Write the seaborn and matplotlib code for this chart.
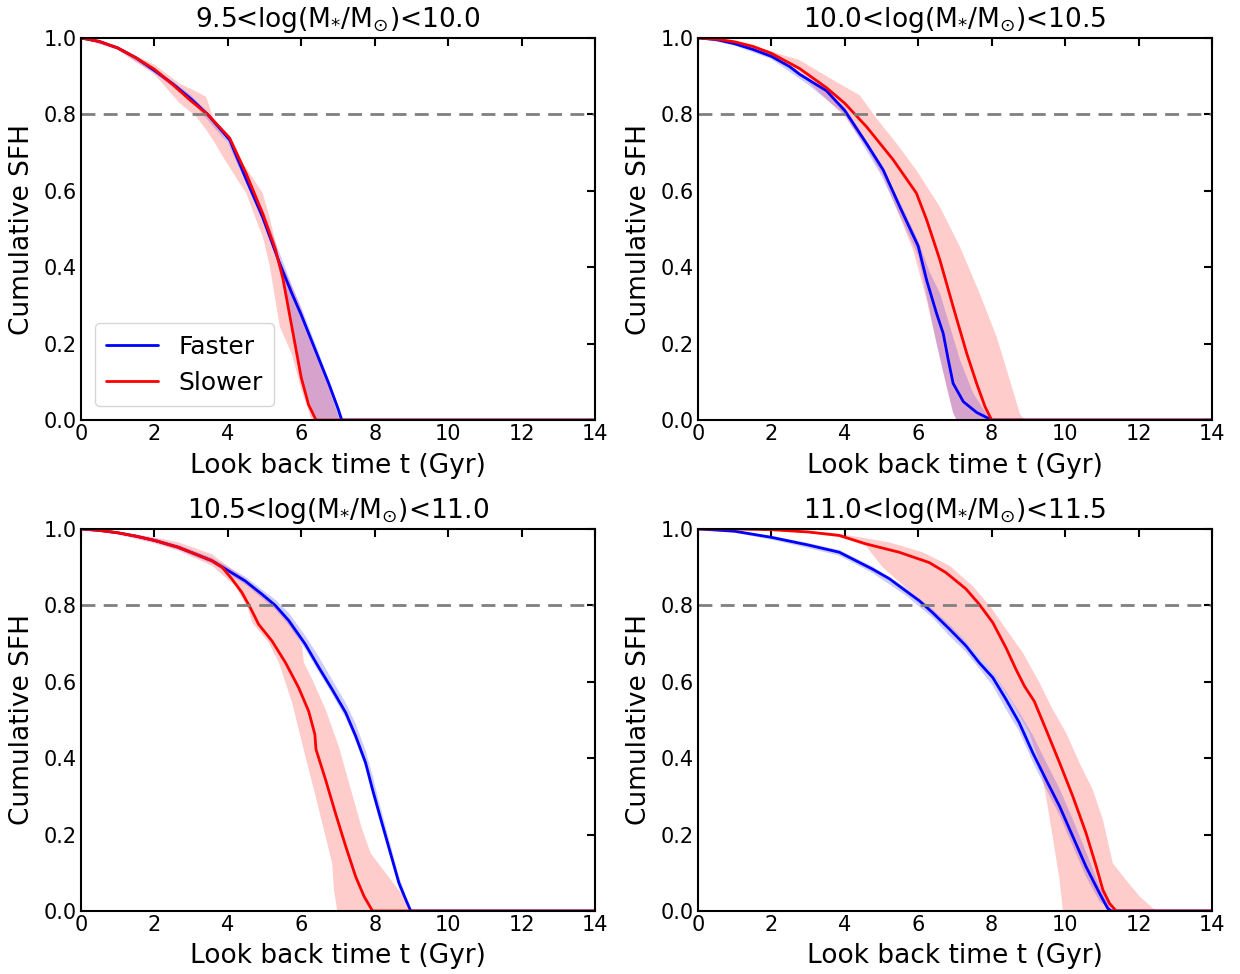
import numpy as np
import pandas as pd
import matplotlib
matplotlib.use("Agg")
import matplotlib.pyplot as plt
import seaborn as sns

# ---------------- data ----------------
titles = [r"9.5<log(M$_{*}$/M$_{\odot}$)<10.0",
          r"10.0<log(M$_{*}$/M$_{\odot}$)<10.5",
          r"10.5<log(M$_{*}$/M$_{\odot}$)<11.0",
          r"11.0<log(M$_{*}$/M$_{\odot}$)<11.5"]

# Panel 1 : 9.5 - 10.0
t1_f = [0, 0.5, 1, 1.5, 2, 2.5, 3, 3.45, 4.05, 4.5, 4.95, 5.41, 5.75, 6, 6.25, 6.5, 6.75, 7, 7.1, 14]
f1 = [1, 0.991, 0.974, 0.948, 0.915, 0.88, 0.84, 0.80, 0.733, 0.63, 0.53, 0.41, 0.33, 0.275, 0.215, 0.155, 0.095, 0.03, 0, 0]
t1_s = [0, 0.5, 1, 1.5, 2, 2.5, 3, 3.45, 4.05, 4.5, 4.95, 5.3, 5.5, 5.75, 6, 6.2, 6.4, 14]
s1 = [1, 0.991, 0.974, 0.948, 0.918, 0.878, 0.835, 0.80, 0.738, 0.645, 0.54, 0.445, 0.37, 0.24, 0.11, 0.04, 0, 0]
rt1_hi = [0, 1, 2, 2.68, 3.14, 3.41, 3.68, 3.86, 4.32, 4.5, 4.77, 4.95, 5.14, 5.41, 5.75, 6.0, 6.28, 6.5, 6.7, 7.04, 14]
rhi1 = [1, 0.978, 0.93, 0.881, 0.86, 0.846, 0.768, 0.745, 0.68, 0.66, 0.62, 0.594, 0.53, 0.42, 0.35, 0.29, 0.21, 0.16, 0.10, 0, 0]
rt1_lo = [0, 1, 2, 2.68, 3.14, 3.41, 3.68, 3.86, 4.32, 4.5, 4.77, 4.95, 5.14, 5.41, 5.75, 6.0, 6.28, 14]
rlo1 = [1, 0.968, 0.905, 0.83, 0.794, 0.76, 0.72, 0.69, 0.62, 0.594, 0.524, 0.48, 0.404, 0.246, 0.17, 0.08, 0, 0]
bt1_hi = [0, 1, 2, 3, 4, 4.5, 5, 5.3, 5.5, 5.75, 6, 6.4, 6.5, 7, 7.15, 14]
bhi1 = [1, 0.978, 0.922, 0.85, 0.75, 0.645, 0.54, 0.465, 0.415, 0.35, 0.295, 0.195, 0.17, 0.04, 0, 0]
bt1_lo = [0, 1, 2, 3, 4, 4.5, 5, 5.3, 5.5, 5.75, 6, 6.4, 14]
blo1 = [1, 0.97, 0.908, 0.835, 0.725, 0.62, 0.515, 0.44, 0.37, 0.24, 0.11, 0, 0]

# Panel 2 : 10.0 - 10.5
t2_f = [0, 0.5, 1, 1.5, 2, 2.5, 2.77, 3.5, 4.0, 4.59, 5.05, 5.5, 6.0, 6.23, 6.5, 6.68, 6.82, 6.95, 7.23, 7.59, 8.0, 14]
f2 = [1, 0.996, 0.985, 0.97, 0.952, 0.925, 0.905, 0.862, 0.81, 0.724, 0.654, 0.558, 0.455, 0.366, 0.279, 0.227, 0.157, 0.096, 0.048, 0.02, 0, 0]
t2_s = [0, 0.5, 1, 1.5, 2, 2.77, 3.5, 4.0, 4.59, 5.32, 5.95, 6.23, 6.59, 6.95, 7.32, 7.59, 7.82, 8.0, 14]
s2 = [1, 0.997, 0.99, 0.978, 0.96, 0.92, 0.87, 0.829, 0.768, 0.681, 0.594, 0.524, 0.419, 0.297, 0.175, 0.096, 0.035, 0, 0]
rt2_hi = [0, 1, 2, 2.77, 3.68, 4.41, 4.86, 5.41, 5.95, 6.59, 7.14, 7.68, 8.14, 8.5, 8.77, 8.9, 14]
rhi2 = [1, 0.992, 0.965, 0.942, 0.89, 0.85, 0.79, 0.724, 0.654, 0.558, 0.453, 0.33, 0.217, 0.103, 0.016, 0, 0]
rt2_lo = [0, 1, 2, 2.77, 4.0, 4.59, 5.05, 5.5, 5.86, 6.23, 6.5, 6.77, 6.95, 7.05, 14]
rlo2 = [1, 0.985, 0.95, 0.907, 0.794, 0.715, 0.637, 0.532, 0.445, 0.314, 0.201, 0.088, 0.018, 0, 0]
bt2_hi = [0, 1, 2, 3, 4, 5, 6, 6.3, 6.6, 7.14, 7.5, 7.9, 8.0, 14]
bhi2 = [1, 0.99, 0.958, 0.895, 0.82, 0.67, 0.47, 0.39, 0.33, 0.157, 0.07, 0.01, 0, 0]
bt2_lo = [0, 1, 2, 3, 4, 5, 6, 6.5, 6.77, 6.95, 7.05, 14]
blo2 = [1, 0.98, 0.945, 0.878, 0.80, 0.64, 0.43, 0.20, 0.09, 0.02, 0, 0]

# Panel 3 : 10.5 - 11.0
t3_f = [0, 0.5, 1, 1.5, 2, 2.65, 3.56, 4.47, 4.93, 5.29, 5.66, 6.11, 6.48, 6.84, 7.21, 7.48, 7.75, 7.94, 8.12, 8.30, 8.48, 8.66, 8.85, 8.98, 14]
f3 = [1, 0.996, 0.99, 0.981, 0.97, 0.952, 0.917, 0.864, 0.829, 0.80, 0.76, 0.698, 0.637, 0.58, 0.519, 0.458, 0.388, 0.318, 0.256, 0.195, 0.134, 0.073, 0.029, 0, 0]
t3_s = [0, 0.5, 1, 1.5, 2, 2.65, 3.56, 3.84, 4.11, 4.38, 4.61, 4.84, 5.2, 5.57, 5.93, 6.2, 6.37, 6.40, 6.66, 6.93, 7.21, 7.48, 7.71, 7.94, 14]
s3 = [1, 0.996, 0.99, 0.981, 0.97, 0.952, 0.917, 0.90, 0.869, 0.834, 0.794, 0.75, 0.707, 0.65, 0.584, 0.523, 0.462, 0.423, 0.344, 0.256, 0.169, 0.09, 0.038, 0, 0]
rt3_hi = [0, 1, 2, 2.65, 3.56, 4.47, 5.11, 5.66, 6.02, 6.07, 6.3, 6.66, 7.02, 7.3, 7.66, 7.89, 8.3, 8.85, 9.03, 14]
rhi3 = [1, 0.993, 0.978, 0.965, 0.934, 0.869, 0.816, 0.764, 0.694, 0.65, 0.606, 0.528, 0.431, 0.335, 0.213, 0.151, 0.099, 0.03, 0, 0]
rt3_lo = [0, 1, 2, 2.65, 3.56, 4.2, 4.56, 4.66, 5.11, 5.39, 5.75, 6.11, 6.39, 6.66, 6.84, 6.89, 6.98, 14]
rlo3 = [1, 0.985, 0.962, 0.943, 0.904, 0.851, 0.79, 0.755, 0.703, 0.65, 0.545, 0.405, 0.30, 0.195, 0.125, 0.055, 0, 0]
bt3 = [0, 1, 2, 2.65, 3.56, 4.47, 5.29, 5.66, 6.11, 6.48, 6.84, 7.21, 7.48, 7.75, 7.94, 8.12, 8.30, 8.48, 8.66, 8.85, 9.0, 14]
bhi3 = [1, 0.993, 0.975, 0.958, 0.925, 0.875, 0.815, 0.78, 0.72, 0.665, 0.605, 0.545, 0.49, 0.42, 0.355, 0.285, 0.22, 0.155, 0.09, 0.04, 0, 0]
blo3 = [1, 0.987, 0.965, 0.946, 0.91, 0.855, 0.79, 0.748, 0.685, 0.625, 0.568, 0.505, 0.445, 0.375, 0.30, 0.24, 0.18, 0.12, 0.06, 0.02, 0, 0]

# Panel 4 : 11.0 - 11.5
t4_f = [0, 1, 2, 3, 3.85, 4.3, 4.75, 5.21, 5.66, 6.03, 6.39, 6.85, 7.3, 7.66, 8.03, 8.39, 8.75, 9.12, 9.48, 9.85, 10.21, 10.57, 10.94, 11.16, 11.25, 14]
f4 = [1, 0.994, 0.978, 0.958, 0.939, 0.917, 0.895, 0.87, 0.838, 0.812, 0.781, 0.738, 0.694, 0.65, 0.611, 0.554, 0.493, 0.414, 0.344, 0.274, 0.195, 0.116, 0.046, 0.007, 0, 0]
t4_s = [0, 1, 2, 3, 3.85, 4.57, 5.48, 6.3, 6.75, 7.3, 7.66, 8.03, 8.39, 8.66, 8.89, 9.16, 9.48, 9.85, 10.21, 10.57, 10.85, 11.03, 11.21, 11.39, 14]
s4 = [1, 1, 0.998, 0.992, 0.983, 0.961, 0.939, 0.912, 0.886, 0.843, 0.803, 0.755, 0.689, 0.633, 0.589, 0.549, 0.475, 0.388, 0.30, 0.204, 0.116, 0.055, 0.02, 0, 0]
rt4_hi = [0, 2, 3, 3.85, 5.21, 6.12, 6.85, 7.48, 7.94, 8.39, 8.85, 9.3, 9.66, 10.03, 10.39, 10.75, 11.03, 11.3, 11.66, 12.03, 12.39, 12.57, 14]
rhi4 = [1, 0.999, 0.995, 0.987, 0.965, 0.939, 0.904, 0.851, 0.80, 0.738, 0.676, 0.598, 0.528, 0.466, 0.388, 0.318, 0.239, 0.125, 0.081, 0.038, 0.007, 0, 0]
rt4_lo = [0, 2, 3, 3.85, 4.57, 5.03, 5.39, 6.03, 6.85, 7.48, 8.03, 8.57, 9.03, 9.3, 9.48, 9.66, 9.85, 9.94, 14]
rlo4 = [1, 0.997, 0.99, 0.978, 0.956, 0.90, 0.869, 0.816, 0.746, 0.685, 0.624, 0.545, 0.466, 0.388, 0.30, 0.195, 0.081, 0, 0]
bt4 = [0, 1, 2, 3, 3.85, 4.75, 5.66, 6.39, 6.85, 7.3, 7.66, 8.03, 8.39, 8.75, 9.12, 9.48, 9.85, 10.21, 10.57, 10.94, 11.3, 14]
bhi4 = [1, 0.996, 0.982, 0.963, 0.945, 0.902, 0.846, 0.79, 0.75, 0.705, 0.665, 0.625, 0.575, 0.52, 0.46, 0.39, 0.32, 0.24, 0.155, 0.065, 0, 0]
blo4 = [1, 0.99, 0.972, 0.95, 0.93, 0.885, 0.826, 0.768, 0.72, 0.678, 0.635, 0.59, 0.528, 0.47, 0.39, 0.32, 0.25, 0.17, 0.09, 0.025, 0, 0]

panels = [
    dict(tf=t1_f, f=f1, ts=t1_s, s=s1, rth=rt1_hi, rhi=rhi1, rtl=rt1_lo, rlo=rlo1,
         bth=bt1_hi, bhi=bhi1, btl=bt1_lo, blo=blo1),
    dict(tf=t2_f, f=f2, ts=t2_s, s=s2, rth=rt2_hi, rhi=rhi2, rtl=rt2_lo, rlo=rlo2,
         bth=bt2_hi, bhi=bhi2, btl=bt2_lo, blo=blo2),
    dict(tf=t3_f, f=f3, ts=t3_s, s=s3, rth=rt3_hi, rhi=rhi3, rtl=rt3_lo, rlo=rlo3,
         bth=bt3, bhi=bhi3, btl=bt3, blo=blo3),
    dict(tf=t4_f, f=f4, ts=t4_s, s=s4, rth=rt4_hi, rhi=rhi4, rtl=rt4_lo, rlo=rlo4,
         bth=bt4, bhi=bhi4, btl=bt4, blo=blo4),
]


def band(ax, t_hi, hi, t_lo, lo, color):
    xs = list(t_hi) + list(t_lo)[::-1]
    ys = list(hi) + list(lo)[::-1]
    ax.fill(xs, ys, color=color, alpha=0.2, lw=0)


# ---------------- plotting ----------------
sns.set_style("white")
plt.rcParams['font.family'] = ['DejaVu Sans']
plt.rcParams['mathtext.default'] = 'regular'
for k in ['text.color', 'axes.labelcolor', 'xtick.color', 'ytick.color']:
    plt.rcParams[k] = 'black'

fig, axes = plt.subplots(2, 2, figsize=(12.4, 9.74), dpi=100)
fig.subplots_adjust(left=0.0653, right=0.9774, top=0.961, bottom=0.0647,
                    wspace=0.2, hspace=0.285)

for ax, title, p in zip(axes.flat, titles, panels):
    band(ax, p['bth'], p['bhi'], p['btl'], p['blo'], 'blue')
    band(ax, p['rth'], p['rhi'], p['rtl'], p['rlo'], 'red')
    dff = pd.DataFrame({'t': p['tf'], 'y': p['f']})
    dfs = pd.DataFrame({'t': p['ts'], 'y': p['s']})
    sns.lineplot(data=dff, x='t', y='y', color='blue', lw=2, label='Faster',
                 estimator=None, sort=False, ax=ax, legend=False)
    sns.lineplot(data=dfs, x='t', y='y', color='red', lw=2, label='Slower',
                 estimator=None, sort=False, ax=ax, legend=False)
    ax.axhline(0.8, color='gray', lw=2, linestyle=(0, (5, 3)))
    ax.set_xlim(0, 14)
    ax.set_ylim(0, 1)
    ax.set_xticks(np.arange(0, 15, 2))
    ax.set_yticks(np.arange(0, 1.01, 0.2))
    ax.set_yticklabels([f"{v:.1f}" for v in np.arange(0, 1.01, 0.2)])
    ax.tick_params(direction='in', top=True, right=True, length=6, width=1.5,
                   labelsize=15, pad=3)
    for sp in ax.spines.values():
        sp.set_linewidth(1.5)
        sp.set_color('black')
    ax.set_xlabel('Look back time t (Gyr)', fontsize=19, labelpad=6)
    ax.set_ylabel('Cumulative SFH', fontsize=19, labelpad=6)
    ax.set_title(title, fontsize=19, pad=8)

axes[0, 0].legend(loc='lower left', fontsize=18, frameon=True,
                  bbox_to_anchor=(0.0, 0.0), borderaxespad=0.55,
                  borderpad=0.45, handlelength=2.1, handletextpad=0.8,
                  labelspacing=0.5)

fig.savefig('out.png', dpi=100)
